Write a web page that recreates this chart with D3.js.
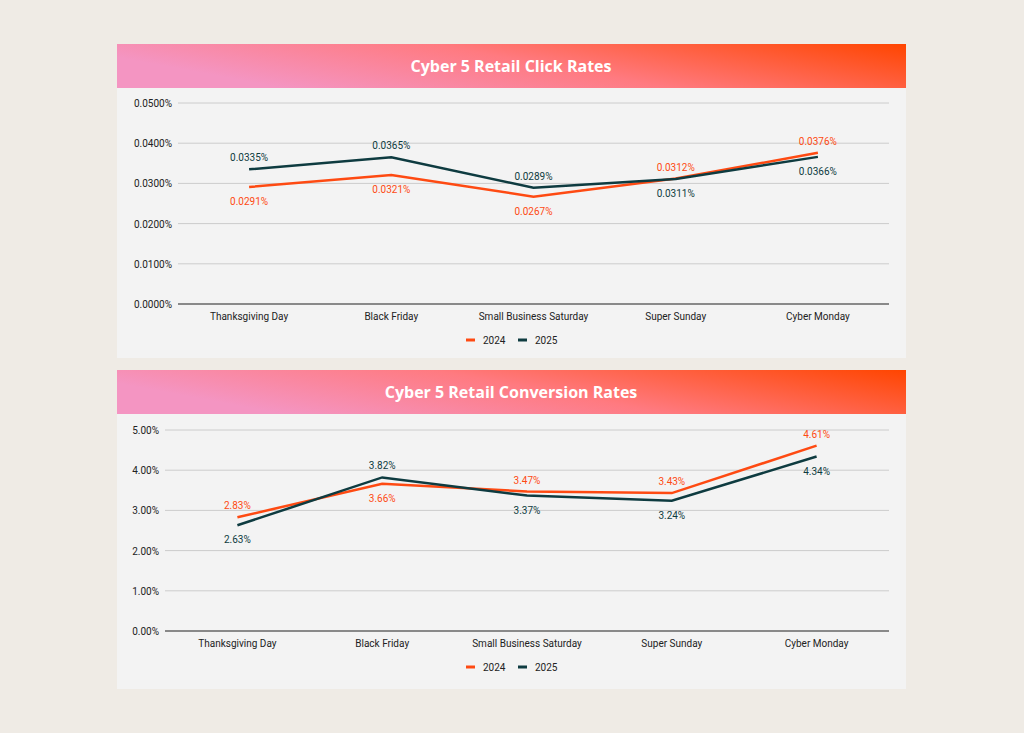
<!DOCTYPE html>
<html>
<head>
<meta charset="utf-8">
<script src="https://cdnjs.cloudflare.com/ajax/libs/d3/7.8.5/d3.min.js"></script>
<style>
body{margin:0;background:#efebe5;}
</style>
</head>
<body>
<script>
var days = ["Thanksgiving Day","Black Friday","Small Business Saturday","Super Sunday","Cyber Monday"];
var years = ["2024","2025"];
var colors = ["#fe4a12","#0e3b40"];
var click2024 = [0.0291,0.0321,0.0267,0.0312,0.0376];
var click2025 = [0.0335,0.0365,0.0289,0.0311,0.0366];
var clickTicks = [0,0.01,0.02,0.03,0.04,0.05];
var conv2024 = [2.83,3.66,3.47,3.43,4.61];
var conv2025 = [2.63,3.82,3.37,3.24,4.34];
var convTicks = [0,1,2,3,4,5];

var svg = d3.select("body").append("svg").attr("width",1024).attr("height",733);
var defs = svg.append("defs");
var g = defs.append("linearGradient").attr("id","hdr").attr("x1","0").attr("y1","0.3").attr("x2","1").attr("y2","0");
g.append("stop").attr("offset","0").attr("stop-color","#f495c2");
g.append("stop").attr("offset","0.45").attr("stop-color","#ff7a80");
g.append("stop").attr("offset","1").attr("stop-color","#ff4500");

function chart(top, bottom, title, s1, s2, ticks, fmt, x0, x1, y0, y1){
  svg.append("rect").attr("x",117).attr("y",top).attr("width",789).attr("height",bottom-top).attr("fill","#f3f3f3");
  svg.append("rect").attr("x",117).attr("y",top).attr("width",789).attr("height",44).attr("fill","url(#hdr)");
  svg.append("text").attr("x",511).attr("y",top+28).attr("text-anchor","middle").attr("fill","#fff")
    .attr("font-family","Open Sans").attr("font-weight","bold").attr("font-size",16).text(title);
  var x = d3.scaleBand().domain(days).range([x0,x1]);
  var y = d3.scaleLinear().domain([0,d3.max(ticks)]).range([y0,y1]);
  ticks.forEach(function(t){
    svg.append("line").attr("x1",x0).attr("x2",x1).attr("y1",y(t)).attr("y2",y(t))
      .attr("stroke",t==0?"#666":"#ccc").attr("stroke-width",t==0?1.3:1);
    svg.append("text").attr("x",x0-6).attr("y",y(t)+4).attr("text-anchor","end")
      .attr("font-family","Roboto").attr("font-size",10).attr("fill","#222").text(fmt(t));
  });
  days.forEach(function(d){
    svg.append("text").attr("x",x(d)+x.bandwidth()/2).attr("y",y0+16).attr("text-anchor","middle")
      .attr("font-family","Roboto").attr("font-size",10).attr("fill","#222").text(d);
  });
  var cx = function(d,i){return x(days[i])+x.bandwidth()/2;};
  [s1,s2].forEach(function(s,k){
    svg.append("path").attr("fill","none").attr("stroke",colors[k]).attr("stroke-width",2.5)
      .attr("d",d3.line().x(cx).y(function(v){return y(v);})(s));
  });
  days.forEach(function(d,i){
    [s1,s2].forEach(function(s,k){
      var other = k==0?s2:s1;
      var up = s[i] >= other[i];
      svg.append("text").attr("x",cx(0,i)).attr("y",y(s[i])+(up?-8:18)).attr("text-anchor","middle")
        .attr("font-family","Roboto").attr("font-size",10).attr("fill",colors[k])
        .text(s==s1||s==s2 ? (fmt===clickFmt? s[i].toFixed(4)+"%" : s[i].toFixed(2)+"%") : "");
    });
  });
  var ly = y0+36;
  years.forEach(function(yr,k){
    var lx = 466 + k*52;
    svg.append("line").attr("x1",lx).attr("x2",lx+9).attr("y1",ly).attr("y2",ly).attr("stroke",colors[k]).attr("stroke-width",3);
    svg.append("text").attr("x",lx+17).attr("y",ly+4).attr("font-family","Roboto").attr("font-size",10).attr("fill","#222").text(yr);
  });
}
function clickFmt(t){return t.toFixed(4)+"%";}
function convFmt(t){return t.toFixed(2)+"%";}
chart(44,358,"Cyber 5 Retail Click Rates",click2024,click2025,clickTicks,clickFmt,178,889,304,103);
chart(370,689,"Cyber 5 Retail Conversion Rates",conv2024,conv2025,convTicks,convFmt,165,889,631,430);
</script>
</body>
</html>
